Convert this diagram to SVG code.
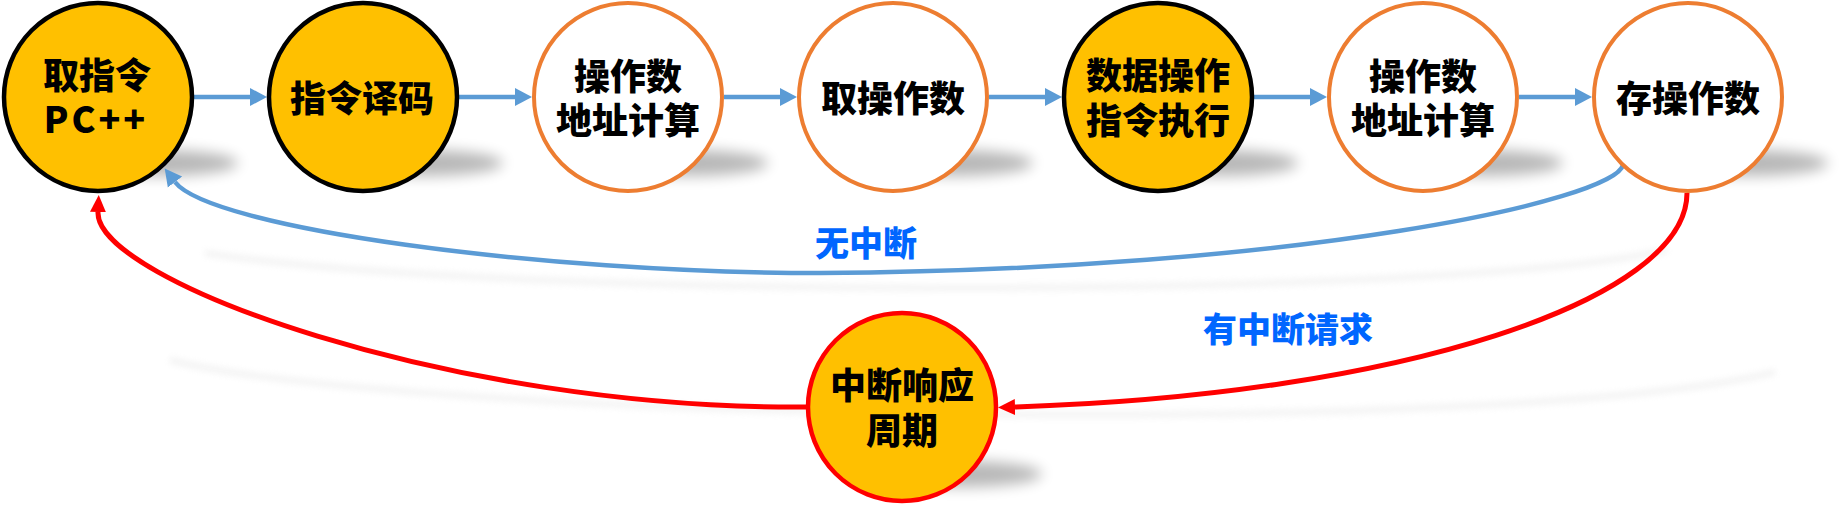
<svg xmlns="http://www.w3.org/2000/svg" width="1839" height="517" viewBox="0 0 1839 517">
<defs>
<style>
.bg{fill:#ffffff}
.yb{fill:#FFC000;stroke:#000000;stroke-width:4.5}
.wo{fill:#ffffff;stroke:#ED7D31;stroke-width:4}
.yr{fill:#FFC000;stroke:#FF0000;stroke-width:4.5}
.t{font-family:"Noto Sans CJK SC","Noto Sans",sans-serif;font-weight:900;font-size:36px;fill:#000000;text-anchor:middle}
.lbl{font-family:"Noto Sans CJK SC","Noto Sans",sans-serif;font-weight:900;font-size:34px;fill:#0066FF;text-anchor:middle}
.blue{fill:none;stroke:#5B9BD5;stroke-width:4.5}
.red{fill:none;stroke:#FF0000;stroke-width:5}
.sh{fill:#000000;opacity:0.28;filter:url(#blur)}
.csh{fill:none;stroke:#e4e4e4;stroke-width:6;opacity:0.45;filter:url(#blur2)}
</style>
<filter id="blur" x="-50%" y="-100%" width="200%" height="300%"><feGaussianBlur stdDeviation="7"/></filter>
<filter id="blur2" x="-10%" y="-50%" width="120%" height="200%"><feGaussianBlur stdDeviation="3"/></filter>
<marker id="ab" markerUnits="userSpaceOnUse" markerWidth="20" markerHeight="20" viewBox="0 -10 20 20" refX="0" refY="0" orient="auto"><path d="M0,-9 L17,0 L0,9 z" fill="#5B9BD5"/></marker>
<marker id="ar" markerUnits="userSpaceOnUse" markerWidth="20" markerHeight="20" viewBox="0 -10 20 20" refX="0" refY="0" orient="auto"><path d="M0,-8 L17,0 L0,8 z" fill="#FF0000"/></marker>
</defs>
<rect class="bg" x="0" y="0" width="1839" height="517"/>
<g id="shadows">
<ellipse class="sh" cx="158" cy="163" rx="80" ry="13"/>
<ellipse class="sh" cx="423" cy="163" rx="80" ry="13"/>
<ellipse class="sh" cx="688" cy="163" rx="80" ry="13"/>
<ellipse class="sh" cx="953" cy="163" rx="80" ry="13"/>
<ellipse class="sh" cx="1218" cy="163" rx="80" ry="13"/>
<ellipse class="sh" cx="1483" cy="163" rx="80" ry="13"/>
<ellipse class="sh" cx="1748" cy="163" rx="80" ry="13"/>
<ellipse class="sh" cx="962" cy="474" rx="80" ry="13"/>
<path class="csh" d="M205,253 C500,300 1450,300 1667,250"/>
<path class="csh" d="M170,360 C400,420 1500,440 1775,372"/>
</g>
<g id="connectors">
<line class="blue" x1="194" y1="97" x2="250" y2="97" marker-end="url(#ab)"/>
<line class="blue" x1="459" y1="97" x2="515" y2="97" marker-end="url(#ab)"/>
<line class="blue" x1="724" y1="97" x2="780" y2="97" marker-end="url(#ab)"/>
<line class="blue" x1="989" y1="97" x2="1045" y2="97" marker-end="url(#ab)"/>
<line class="blue" x1="1254" y1="97" x2="1310" y2="97" marker-end="url(#ab)"/>
<line class="blue" x1="1519" y1="97" x2="1575" y2="97" marker-end="url(#ab)"/>
<path class="blue" d="M1623,165 C1615,200 1300,270 820,273 C540,273 210,228 175,182" marker-end="url(#ab)"/>
<path class="red" d="M1687,193 C1687,300 1400,395 1015,407" marker-end="url(#ar)"/>
<path class="red" d="M807,407 C450,410 95,280 98,212" marker-end="url(#ar)"/>
<text class="lbl" x="866" y="256">无中断</text>
<text class="lbl" x="1288" y="342">有中断请求</text>
</g>
<g id="n1"><circle class="yb" cx="98" cy="97" r="94"/><text class="t" x="97" y="89">取指令</text><text class="t" x="96" y="133" letter-spacing="3">PC++</text></g>
<g id="n2"><circle class="yb" cx="363" cy="97" r="94"/><text class="t" x="362" y="112">指令译码</text></g>
<g id="n3"><circle class="wo" cx="628" cy="97" r="94"/><text class="t" x="628" y="90">操作数</text><text class="t" x="628" y="134">地址计算</text></g>
<g id="n4"><circle class="wo" cx="893" cy="97" r="94"/><text class="t" x="893" y="112">取操作数</text></g>
<g id="n5"><circle class="yb" cx="1158" cy="97" r="94"/><text class="t" x="1158" y="89">数据操作</text><text class="t" x="1158" y="134">指令执行</text></g>
<g id="n6"><circle class="wo" cx="1423" cy="97" r="94"/><text class="t" x="1423" y="90">操作数</text><text class="t" x="1423" y="134">地址计算</text></g>
<g id="n7"><circle class="wo" cx="1688" cy="97" r="94"/><text class="t" x="1688" y="112">存操作数</text></g>
<g id="n8"><circle class="yr" cx="902" cy="407" r="94"/><text class="t" x="902" y="399">中断响应</text><text class="t" x="902" y="444">周期</text></g>
</svg>
